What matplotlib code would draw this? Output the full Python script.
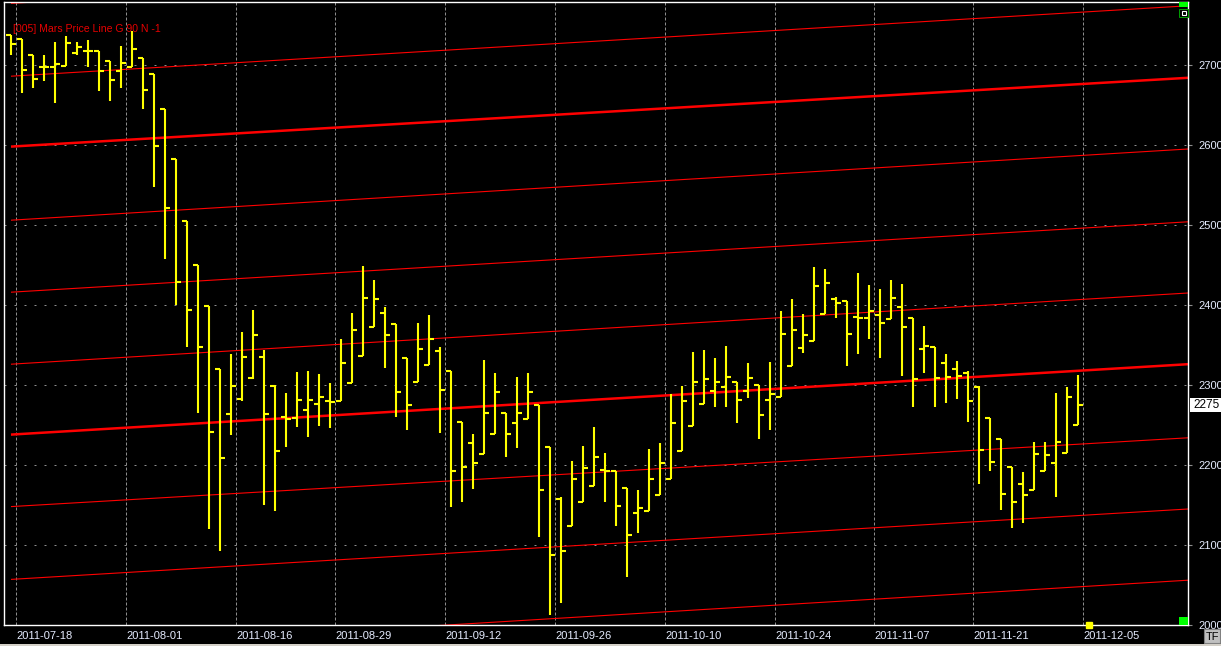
import matplotlib
matplotlib.use("Agg")
import matplotlib.pyplot as plt
from matplotlib.patches import Rectangle
import numpy as np

plt.rcParams["font.family"] = ["Liberation Sans", "DejaVu Sans"]

# daily OHLC bars, one per trading day
opens = [2738, 2732, 2713, 2698, 2697, 2699, 2715, 2718, 2718, 2705,
         2693, 2698, 2709, 2689, 2645, 2583, 2505, 2450, 2399, 2320,
         2264, 2283, 2309, 2335, 2299, 2260, 2259, 2269, 2276, 2280,
         2280, 2303, 2336, 2373, 2390, 2376, 2334, 2304, 2325, 2342,
         2318, 2254, 2227, 2214, 2239, 2265, 2253, 2258, 2275, 2223,
         2157, 2124, 2154, 2174, 2194, 2193, 2171, 2140, 2143, 2163,
         2182, 2218, 2249, 2276, 2292, 2298, 2304, 2293, 2300, 2281,
         2285, 2324, 2346, 2355, 2389, 2408, 2405, 2385, 2384, 2388,
         2383, 2398, 2384, 2345, 2348, 2328, 2320, 2315, 2298, 2259,
         2232, 2198, 2176, 2169, 2192, 2202, 2215, 2250]
highs = [2738, 2732, 2713, 2713, 2729, 2736, 2729, 2731, 2718, 2705,
         2724, 2742, 2709, 2689, 2645, 2583, 2505, 2450, 2399, 2320,
         2339, 2366, 2394, 2344, 2300, 2290, 2316, 2318, 2314, 2302,
         2358, 2390, 2449, 2431, 2397, 2376, 2334, 2377, 2387, 2348,
         2318, 2254, 2239, 2331, 2315, 2265, 2310, 2315, 2275, 2223,
         2160, 2205, 2224, 2247, 2215, 2193, 2171, 2169, 2220, 2228,
         2289, 2299, 2341, 2344, 2334, 2349, 2304, 2328, 2300, 2329,
         2393, 2408, 2389, 2447, 2445, 2410, 2405, 2440, 2425, 2420,
         2431, 2426, 2384, 2374, 2348, 2339, 2330, 2317, 2299, 2259,
         2232, 2198, 2191, 2229, 2229, 2290, 2298, 2313]
lows = [2713, 2665, 2671, 2680, 2652, 2699, 2713, 2697, 2667, 2655,
        2671, 2698, 2645, 2547, 2457, 2400, 2348, 2265, 2120, 2093,
        2238, 2280, 2308, 2150, 2142, 2223, 2247, 2235, 2249, 2246,
        2280, 2303, 2336, 2373, 2321, 2260, 2244, 2304, 2325, 2240,
        2147, 2154, 2170, 2214, 2239, 2210, 2221, 2258, 2110, 2013,
        2027, 2124, 2154, 2174, 2154, 2124, 2060, 2115, 2143, 2163,
        2182, 2218, 2249, 2276, 2272, 2272, 2253, 2284, 2233, 2244,
        2285, 2324, 2340, 2355, 2389, 2384, 2324, 2339, 2357, 2334,
        2383, 2311, 2273, 2315, 2272, 2278, 2283, 2254, 2176, 2193,
        2144, 2121, 2128, 2169, 2192, 2160, 2215, 2250]
closes = [2726, 2694, 2683, 2697, 2701, 2728, 2723, 2718, 2692, 2681,
          2702, 2720, 2669, 2599, 2521, 2429, 2394, 2347, 2241, 2209,
          2299, 2335, 2363, 2264, 2218, 2258, 2281, 2281, 2285, 2279,
          2327, 2369, 2409, 2408, 2363, 2291, 2275, 2345, 2358, 2294,
          2192, 2198, 2202, 2265, 2291, 2239, 2265, 2291, 2169, 2088,
          2093, 2183, 2196, 2210, 2193, 2149, 2112, 2146, 2183, 2202,
          2253, 2280, 2304, 2307, 2304, 2310, 2281, 2309, 2262, 2289,
          2364, 2369, 2363, 2424, 2427, 2402, 2364, 2384, 2392, 2378,
          2409, 2372, 2308, 2349, 2309, 2310, 2311, 2280, 2219, 2204,
          2164, 2154, 2163, 2214, 2212, 2229, 2285, 2275]

# date labels and the bar index where each date starts
tick_dates = ["2011-07-18", "2011-08-01", "2011-08-16", "2011-08-29",
              "2011-09-12", "2011-09-26", "2011-10-10", "2011-10-24",
              "2011-11-07", "2011-11-21", "2011-12-05"]
tick_bars = [1, 11, 21, 30, 40, 50, 60, 70, 79, 88, 98]

# "Mars Price Line" levels: price at the first bar and at the right edge
line_start = [2777, 2686, 2598, 2506, 2416, 2326, 2238, 2148, 2057, 1967]
line_end = [2865, 2774, 2684, 2595, 2504, 2415, 2326, 2234, 2145, 2056]
line_heavy = [False, False, True, False, False, False, True, False, False, False]

last_price = 2275
price_ticks = [2000, 2100, 2200, 2300, 2400, 2500, 2600, 2700]

W, H = 1221, 646
fig = plt.figure(figsize=(W / 100, H / 100), dpi=100, facecolor="black")


def fx(px):
    return px / W


def fy(py):
    return 1 - py / H


ax = fig.add_axes([fx(3.5), fy(625), fx(1188) - fx(3.5), fy(2) - fy(625)])
ax.set_facecolor("black")

n = len(closes)
idx = np.arange(n)
ax.set_xlim(-0.68, 107.0)
ax.set_ylim(2000, 2778.75)

# grid
for p in price_ticks[1:]:
    ax.axhline(p, color="#8c8c8c", lw=0.72, ls=(0, (2, 8)), zorder=1)
for b in tick_bars:
    ax.axvline(b - 0.5, color="#8c8c8c", lw=0.72, ls=(0, (3, 2)), zorder=1)

# price lines
x_end = 107.0
for s, e, heavy in zip(line_start, line_end, line_heavy):
    ax.plot([0, x_end], [s, e], color="#ff0000", lw=1.8 if heavy else 0.8,
            zorder=2, solid_capstyle="butt")

# OHLC bars
yel = "#ffff00"
ax.vlines(idx, lows, highs, color=yel, lw=1.5, zorder=3, capstyle="butt")
ax.hlines(opens, idx - 0.45, idx, color=yel, lw=1.5, zorder=3, capstyle="butt")
ax.hlines(closes, idx, idx + 0.48, color=yel, lw=1.5, zorder=3, capstyle="butt")

# current bar marker at the bottom
ax.plot([tick_bars[-1]], [2000], marker="s", ms=3.8, color=yel,
        mec=yel, clip_on=False, zorder=5)

for side in ["left", "right", "top", "bottom"]:
    ax.spines[side].set_color("white")
    ax.spines[side].set_linewidth(1.0)

ax.set_xticks([b - 0.5 for b in tick_bars])
ax.set_xticklabels(tick_dates, ha="left")
ax.tick_params(axis="x", length=0, pad=4, labelsize=8, labelcolor="#e6ecff")

ax.yaxis.tick_right()
ax.set_yticks(price_ticks)
ax.set_yticklabels([str(p) for p in price_ticks])
ax.tick_params(axis="y", length=3, width=0.8, color="#8c8c8c", pad=4.5,
               labelsize=8, labelcolor="#e6ecff")

ax.text(0.008, 0.957, "[005] Mars Price Line G 90 N -1", transform=ax.transAxes,
        color="#e60000", fontsize=7.6, va="center", ha="left")


def px_rect(x0, y0, x1, y1, **kw):
    r = Rectangle((fx(x0), fy(y1)), fx(x1) - fx(x0), fy(y0) - fy(y1),
                  transform=fig.transFigure, **kw)
    fig.patches.append(r)
    return r


# last price box
px_rect(1190, 398, 1222, 412, facecolor="white", edgecolor="none")
fig.text(fx(1193), fy(405.5), str(last_price), color="black", fontsize=8.5,
         va="center", ha="left")

# corner widgets
px_rect(1179, 1.5, 1188, 7, facecolor="#00ff00", edgecolor="none")
px_rect(1179, 9, 1188, 17, facecolor="black", edgecolor="#00a000", lw=0.7)
px_rect(1181.5, 11, 1185.5, 15, facecolor="black", edgecolor="white", lw=0.8)
px_rect(1179, 617, 1188, 625, facecolor="#00ff00", edgecolor="none")
px_rect(1204, 629, 1220, 643, facecolor="#c0c0c0", edgecolor="#808080", lw=0.8)
fig.text(fx(1212), fy(636.5), "TF", color="black", fontsize=8,
         va="center", ha="center")
px_rect(0, 643.5, 1221, 646, facecolor="#d4d0c8", edgecolor="none")

fig.savefig("out.png", dpi=100, facecolor="black")
